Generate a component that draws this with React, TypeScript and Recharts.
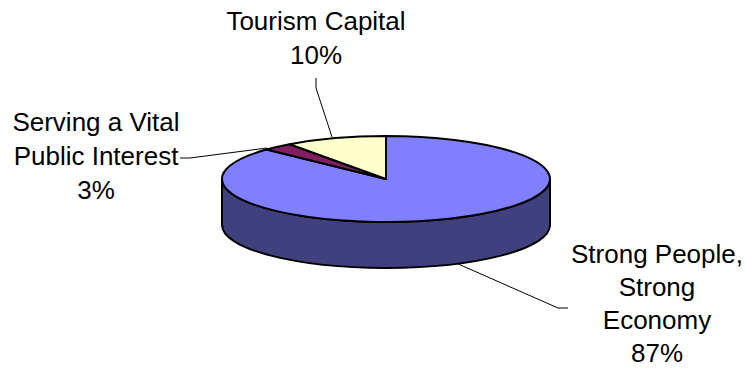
import React from "react";
import { PieChart, Pie, Cell } from "recharts";

const names = ["Strong People, Strong Economy", "Serving a Vital Public Interest", "Tourism Capital"];
const shares = [87, 3, 10];
const topColors = ["#8080ff", "#802060", "#ffffcc"];
const sideColors = ["#40407f", "#401030", "#7f7f66"];
const labelLines = [
  ["Strong People,", "Strong", "Economy", "87%"],
  ["Serving a Vital", "Public Interest", "3%"],
  ["Tourism Capital", "10%"],
];

const tableData = names.map((name, i) => ({ name, value: shares[i] }));

// the pie is laid out as a circle, then squashed and given a wall in the shape
const SQUASH = 43 / 164;
const DEPTH = 46;
const RAD = Math.PI / 180;

// text anchor (centre x, first baseline, line step) and leader polyline for each slice
const labelSpots = [
  { x: 657, y: 263, step: 33, leader: "M456 263 L558 308 L568 308" },
  { x: 96, y: 131, step: 34, leader: "M180 158 L190 158 L267 148" },
  { x: 316, y: 30, step: 34, leader: "M316 78 L316 88 L332 137" },
];

function pt(cx: number, cy: number, r: number, deg: number) {
  return [cx + r * Math.cos(deg * RAD), cy - r * SQUASH * Math.sin(deg * RAD)];
}

function SliceShape(props: any) {
  const { cx, cy, outerRadius: r, startAngle, endAngle, index } = props;
  const ry = r * SQUASH;
  const [sx, sy] = pt(cx, cy, r, startAngle);
  const [ex, ey] = pt(cx, cy, r, endAngle);
  const large = Math.abs(endAngle - startAngle) > 180 ? 1 : 0;
  const top = `M${cx} ${cy} L${sx} ${sy} A${r} ${ry} 0 ${large} 1 ${ex} ${ey} Z`;

  // wall: the part of the slice's rim that lies on the front half of the ellipse
  const from = Math.min(startAngle, 0);
  const to = Math.max(endAngle, -180);
  let wall = null;
  if (from > to) {
    const [ax, ay] = pt(cx, cy, r, from);
    const [bx, by] = pt(cx, cy, r, to);
    const d = `M${ax} ${ay} A${r} ${ry} 0 0 1 ${bx} ${by} L${bx} ${by + DEPTH} A${r} ${ry} 0 0 0 ${ax} ${ay + DEPTH} Z`;
    wall = <path d={d} fill={sideColors[index]} stroke="#000" strokeWidth={2} strokeLinejoin="round" />;
  }
  return (
    <g>
      {wall}
      <path d={top} fill={topColors[index]} stroke="#000" strokeWidth={2} strokeLinejoin="round" />
    </g>
  );
}

function SliceLabel(props: any) {
  const spot = labelSpots[props.index];
  return (
    <g>
      <path d={spot.leader} fill="none" stroke="#000" strokeWidth={1} />
      <text x={spot.x} y={spot.y} textAnchor="middle" fontFamily="Liberation Sans" fontSize={26} fill="#000">
        {labelLines[props.index].map((line, i) => (
          <tspan key={i} x={spot.x} dy={i === 0 ? 0 : spot.step}>
            {line}
          </tspan>
        ))}
      </text>
    </g>
  );
}

export default function App() {
  return (
    <div style={{ position: "absolute", left: 0, top: 0, width: 746, height: 368 }}>
      <PieChart width={746} height={368} margin={{ top: 0, right: 0, bottom: 0, left: 0 }}>
        <Pie
          data={tableData}
          dataKey="value"
          cx={386}
          cy={179}
          innerRadius={0}
          outerRadius={164}
          startAngle={90}
          endAngle={-270}
          paddingAngle={0}
          shape={SliceShape}
          label={SliceLabel}
          labelLine={false}
          isAnimationActive={false}
        >
          {tableData.map((d, i) => (
            <Cell key={d.name} fill={topColors[i]} />
          ))}
        </Pie>
      </PieChart>
    </div>
  );
}
